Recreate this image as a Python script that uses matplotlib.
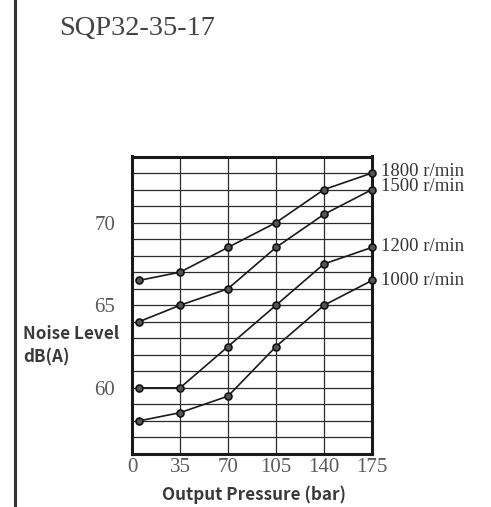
import matplotlib.pyplot as plt
from matplotlib.lines import Line2D

# データ
pressure = [5, 35, 70, 105, 140, 175]
rpm_labels = ['1800 r/min', '1500 r/min', '1200 r/min', '1000 r/min']
noise_1800 = [66.5, 67.0, 68.5, 70.0, 72.0, 73.0]
noise_1500 = [64.0, 65.0, 66.0, 68.5, 70.5, 72.0]
noise_1200 = [60.0, 60.0, 62.5, 65.0, 67.5, 68.5]
noise_1000 = [58.0, 58.5, 59.5, 62.5, 65.0, 66.5]
x_ticks = [0, 35, 70, 105, 140, 175]
y_ticks = [60, 65, 70]

W, H = 491, 507
fig = plt.figure(figsize=(W / 100, H / 100), dpi=100)

# 軸の位置 (ピクセル)
l, r, t, b = 132, 372, 156.5, 454
ax = fig.add_axes([l / W, 1 - b / H, (r - l) / W, (b - t) / H])

series = [noise_1800, noise_1500, noise_1200, noise_1000]
label_dy = [2, 3, 1, 0]   # ラベルの上下ずらし (px)
for ys, lab, dy in zip(series, rpm_labels, label_dy):
    ax.plot(pressure, ys, color='#1a1a1a', lw=1.2, marker='o', ms=5,
            mfc='#555555', mec='#111111', mew=1.2, zorder=3, clip_on=False)
    ax.annotate(lab, xy=(pressure[-1], ys[-1]), xytext=(6.5, dy * 0.72),
                textcoords='offset points', va='center', ha='left',
                fontsize=13.5, family='Liberation Serif', color='#333333')

ax.set_xlim(0, 175)
ax.set_ylim(56, 74)
ax.set_xticks(x_ticks)
ax.set_yticks(y_ticks)
ax.set_yticks(range(56, 75), minor=True)
ax.grid(True, which='both', color='#2a2a2a', lw=0.9)
ax.set_axisbelow(True)
ax.tick_params(which='both', length=0)
ax.tick_params(axis='y', pad=12)
ax.tick_params(axis='x', pad=3)
for lab in ax.get_xticklabels() + ax.get_yticklabels():
    lab.set_family('Liberation Serif')
    lab.set_fontsize(15)
    lab.set_color('#5a5a5a')
for s in ax.spines.values():
    s.set_linewidth(2.2)
    s.set_color('#1a1a1a')

# 軸ラベル
lab_font = dict(fontsize=12.3, fontweight='bold', color='#3a3a3a',
                family=['Noto Sans CJK SC', 'DejaVu Sans'])
fig.text(23 / W, 1 - 334 / H, 'Noise Level', ha='left', va='center', **lab_font)
fig.text(23 / W, 1 - 357 / H, 'dB(A)', ha='left', va='center', **lab_font)
fig.text(254 / W, 1 - 495 / H, 'Output Pressure (bar)', ha='center',
         va='center', **lab_font)

# タイトル
fig.text(59 / W, 1 - 35 / H, 'SQP32-35-17', ha='left', va='baseline',
         fontsize=20.5, family='Liberation Serif', color='#444444')

# 左の縦線
fig.add_artist(Line2D([14.5 / W, 14.5 / W], [0, 1], transform=fig.transFigure,
                      lw=2.2, color='#333333'))

fig.savefig('out.png', dpi=100)
